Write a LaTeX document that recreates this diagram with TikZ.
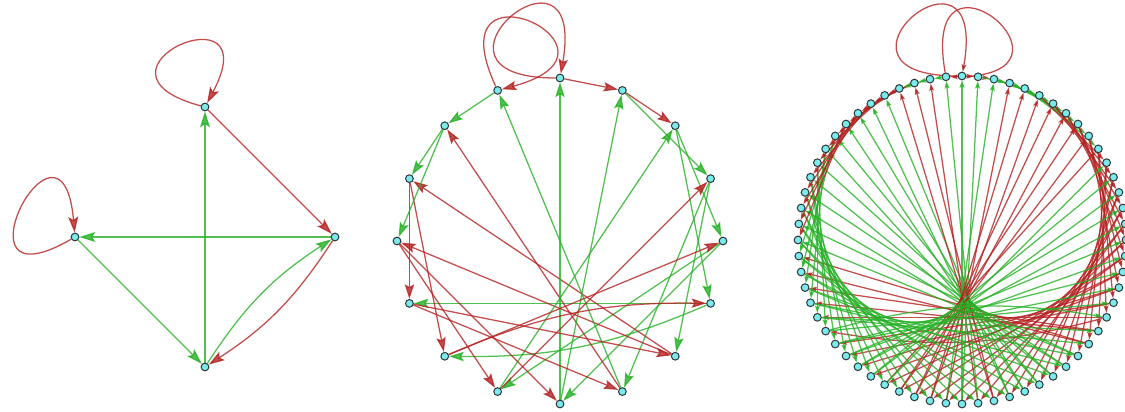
\documentclass[tikz,border=0pt]{standalone}
\usetikzlibrary{arrows.meta,backgrounds}

\definecolor{shiftred}{RGB}{180,32,32}
\definecolor{shiftgreen}{RGB}{36,176,36}
\definecolor{dotfill}{RGB}{122,234,234}
\definecolor{dotline}{RGB}{44,56,60}

\tikzset{
  dot/.style={circle, draw=dotline, fill=dotfill, line width=0.75pt, inner sep=0pt, minimum size=5.8pt},
  shiftedge/.style={draw=#1, opacity=0.8, line width=0.95pt},
  head4/.style={-{Stealth[length=12pt,width=7.5pt,inset=2.5pt]}},
  head16/.style={-{Stealth[length=11pt,width=7pt,inset=2pt]}},
  head64/.style={-{Stealth[length=5.5pt,width=3.6pt,inset=1pt]}}
}

% flag of each target: its red in-edge comes from the half given by the flag
\def\flagsA{{0,0,0,1}}
\def\flagsB{{0,0,0,1,1,1,1,1,1,1,1,1,0,0,0,1}}
\def\flagsC{{0,0,0,1,1,1,1,1,%
             1,1,1,0,0,0,0,0,%
             0,0,0,0,0,0,0,0,%
             0,0,0,0,0,0,0,0,%
             0,0,0,0,0,0,0,0,%
             0,0,0,0,0,0,0,0,%
             1,1,1,1,1,1,1,1,%
             1,1,1,1,0,0,0,1}}

% name, vertices, centre, radius, flags, arrow head
\newcommand{\shiftgraph}[6]{%
  \pgfmathtruncatemacro{\last}{#2-1}
  \foreach \i in {0,...,\last}
    \node[dot] (#1\i) at ([shift={({90-\i/#2*360}:#4)}]#3) {};
  \begin{pgfonlayer}{background}
    \foreach \src in {0,...,\last}
      \foreach \bit in {0,1} {
        \pgfmathtruncatemacro{\dst}{mod(2*\src+\bit,#2)}
        \pgfmathtruncatemacro{\hi}{floor(2*\src/#2)}
        \pgfmathtruncatemacro{\flag}{#5[\dst]}
        \pgfmathtruncatemacro{\rev}{(mod(2*\dst,#2)==\src)+(mod(2*\dst+1,#2)==\src)}
        \ifnum\hi=\flag \def\col{shiftred}\else \def\col{shiftgreen}\fi
        \ifnum\src=\dst \else
          \ifnum\rev>0
            \draw[shiftedge=\col, #6, bend left=12] (#1\src) to (#1\dst);
          \else
            \draw[shiftedge=\col, #6] (#1\src) -- (#1\dst);
          \fi
        \fi
      }
  \end{pgfonlayer}
}

\begin{document}
\begin{tikzpicture}[x=0.75pt, y=0.75pt]
  \useasboundingbox (0,0) rectangle (1125,411);
  \coordinate (ca) at (205,174);
  \coordinate (cb) at (560,170);
  \coordinate (cc) at (962,171);

  \shiftgraph{a}{4}{ca}{130}{\flagsA}{head4}
  \shiftgraph{b}{16}{cb}{163}{\flagsB}{head16}
  \shiftgraph{c}{64}{cc}{164}{\flagsC}{head64}

  % self-loops
  \begin{pgfonlayer}{background}
    \draw[shiftedge=shiftred, head4] (a0) .. controls +(165:140) and +(62:140) .. (a0);
    \draw[shiftedge=shiftred, head4] (a3) .. controls +(210:150) and +(95:150) .. (a3);
    \draw[shiftedge=shiftred, head16] (b0) .. controls +(180:160) and +(80:160) .. (b0);
    \draw[shiftedge=shiftred, head16] (b15) .. controls +(115:155) and +(15:155) .. (b15);
    \draw[shiftedge=shiftred, head64] (c0) .. controls +(180:158) and +(80:158) .. (c0);
    \draw[shiftedge=shiftred, head64] (c63) .. controls +(100:155) and +(0:155) .. (c63);
  \end{pgfonlayer}
\end{tikzpicture}
\end{document}
